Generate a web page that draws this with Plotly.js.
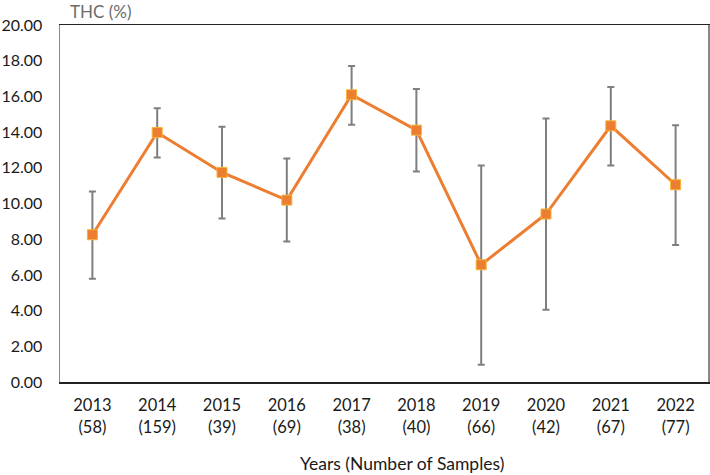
<!DOCTYPE html>
<html>
<head>
<meta charset="utf-8">
<script src="https://cdn.plot.ly/plotly-3.0.1.min.js"></script>
<style>
  html, body { margin: 0; padding: 0; background: #fff; }
  #chart { width: 710px; height: 475px; }
</style>
</head>
<body>
<div id="chart"></div>
<script>
const years = ["2013", "2014", "2015", "2016", "2017", "2018", "2019", "2020", "2021", "2022"];
const samples = [58, 159, 39, 69, 38, 40, 66, 42, 67, 77];
const meanThc = [8.25, 13.98, 11.74, 10.19, 16.09, 14.11, 6.57, 9.41, 14.35, 11.05];
const upperThc = [10.67, 15.34, 14.30, 12.52, 17.71, 16.42, 12.13, 14.76, 16.53, 14.39];
const lowerThc = [5.78, 12.58, 9.16, 7.87, 14.41, 11.79, 0.97, 4.05, 12.13, 7.67];

// Category labels: year on top, sample count below
const labels = years.map((y, i) => y + "<br>(" + samples[i] + ")");

const data = [
	{
		x: labels,
		y: meanThc,
		type: "scatter",
		mode: "lines+markers",
		line: { color: "#ED7D31", width: 3 },
		marker: {
			symbol: "square",
			size: 10,
			color: "#ED7D31",
			line: { color: "#F5B335", width: 1 },
		},
		error_y: {
			type: "data",
			symmetric: false,
			array: upperThc.map((u, i) => u - meanThc[i]),
			arrayminus: meanThc.map((m, i) => m - lowerThc[i]),
			color: "#7F7F7F",
			thickness: 2,
			width: 3.5,
		},
		hoverinfo: "skip",
	},
];

const font = "Lato, 'Open Sans', sans-serif";

const layout = {
	width: 710,
	height: 475,
	paper_bgcolor: "#fff",
	plot_bgcolor: "#fff",
	showlegend: false,
	margin: { l: 60, r: 2, t: 25, b: 93 },
	font: { family: font, size: 17, color: "#1a1a1a" },
	xaxis: {
		type: "category",
		range: [-0.5, 9.5],
		showgrid: false,
		zeroline: false,
		showline: true,
		mirror: true,
		linecolor: "#222",
		linewidth: 1.5,
		ticks: "",
		ticklabelstandoff: 8,
		tickfont: { family: font, size: 16.5, color: "#1a1a1a" },
	},
	yaxis: {
		range: [0, 20],
		dtick: 2,
		tickformat: ".2f",
		showgrid: false,
		zeroline: false,
		showline: true,
		mirror: true,
		linecolor: "#888",
		linewidth: 1.5,
		ticks: "",
		ticklabelstandoff: 13,
		tickfont: { family: font, size: 16, color: "#1a1a1a" },
	},
	annotations: [
		{
			text: "THC (%)",
			xref: "paper",
			yref: "paper",
			x: 0.012,
			y: 1,
			xanchor: "left",
			yanchor: "bottom",
			yshift: 1,
			showarrow: false,
			font: { family: font, size: 17, color: "#6b6b6b" },
		},
		{
			text: "Years (Number of Samples)",
			xref: "paper",
			yref: "paper",
			x: 0.528,
			y: 0,
			xanchor: "center",
			yanchor: "top",
			yshift: -69,
			showarrow: false,
			font: { family: font, size: 17.5, color: "#1a1a1a" },
		},
	],
};

const config = { displayModeBar: false, staticPlot: true };

Plotly.newPlot("chart", data, layout, config);
</script>
</body>
</html>
